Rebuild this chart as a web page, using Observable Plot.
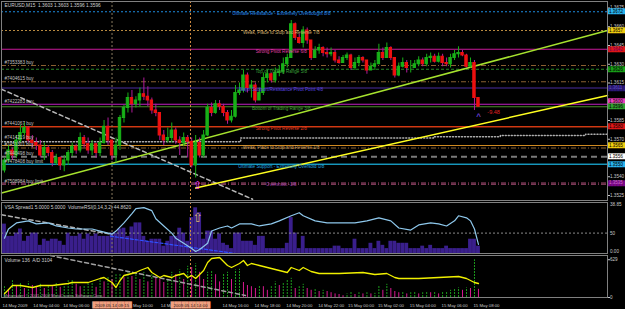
<!DOCTYPE html>
<html><head><meta charset="utf-8">
<script src="https://cdn.jsdelivr.net/npm/d3@7"></script>
<script src="https://cdn.jsdelivr.net/npm/@observablehq/plot@0.6"></script>
<style>
html,body{margin:0;padding:0;background:#000;}
#chart{position:relative;width:625px;height:309px;background:#000;overflow:hidden;}
#chart svg{position:absolute;left:0;}
</style></head><body><div id="chart"></div>
<script>
// ---------- DATA ----------
const title = "EURUSD,M15  1.3603 1.3603 1.3596 1.3596";
const firstOpen = 1.3545;
const closes = [1.3553,1.3561,1.3557,1.3569,1.3575,1.3579,1.3569,1.3567,1.3565,1.3557,
 1.3563,1.3559,1.3551,1.3555,1.3549,1.3553,1.3559,1.3564,1.3561,1.3571,
 1.3566,1.3561,1.3566,1.3559,1.3567,1.3580,1.3569,1.3557,1.3565,1.3587,
 1.3595,1.3603,1.3598,1.3601,1.3606,1.3604,1.3601,1.3593,1.3591,1.3573,
 1.3569,1.3571,1.3577,1.3569,1.3567,1.3571,1.3568,1.3549,1.3567,1.3557,
 1.3573,1.3595,1.3591,1.3598,1.3596,1.3591,1.3585,1.3588,1.3607,1.3609,
 1.3621,1.3611,1.3613,1.3601,1.3607,1.3619,1.3622,1.3617,1.3623,1.3624,
 1.3630,1.3635,1.3662,1.3651,1.3647,1.3657,1.3649,1.3635,1.3641,1.3643,
 1.3639,1.3638,1.3639,1.3633,1.3631,1.3635,1.3637,1.3627,1.3631,1.3635,
 1.3633,1.3625,1.3628,1.3630,1.3639,1.3635,1.3643,1.3635,1.3621,1.3628,
 1.3631,1.3627,1.3627,1.3630,1.3633,1.3630,1.3635,1.3636,1.3632,1.3636,
 1.3631,1.3630,1.3635,1.3638,1.3639,1.3637,1.3628,1.3631,1.3603,1.3596];
const highs = [1.3555,1.3565,1.3563,1.3573,1.3581,1.3583,1.3580,1.3573,1.3571,1.3569,
 1.3567,1.3565,1.3561,1.3558,1.3556,1.3557,1.3561,1.3567,1.3566,1.3575,
 1.3573,1.3571,1.3569,1.3567,1.3571,1.3585,1.3587,1.3569,1.3571,1.3589,
 1.3597,1.3607,1.3609,1.3604,1.3611,1.3619,1.3612,1.3603,1.3598,1.3591,
 1.3577,1.3579,1.3583,1.3579,1.3572,1.3575,1.3573,1.3571,1.3573,1.3571,
 1.3577,1.3598,1.3599,1.3601,1.3601,1.3598,1.3593,1.3593,1.3613,1.3615,
 1.3625,1.3623,1.3617,1.3615,1.3611,1.3623,1.3625,1.3623,1.3627,1.3629,
 1.3635,1.3638,1.3665,1.3663,1.3654,1.3660,1.3659,1.3649,1.3644,1.3646,
 1.3644,1.3643,1.3643,1.3641,1.3636,1.3637,1.3639,1.3638,1.3635,1.3637,
 1.3636,1.3633,1.3631,1.3633,1.3646,1.3643,1.3647,1.3644,1.3635,1.3631,
 1.3635,1.3633,1.3633,1.3633,1.3636,1.3635,1.3638,1.3639,1.3638,1.3639,
 1.3638,1.3635,1.3638,1.3641,1.3644,1.3641,1.3638,1.3635,1.3633,1.3603];
const lows = [1.3543,1.3551,1.3553,1.3555,1.3567,1.3573,1.3567,1.3563,1.3561,1.3555,
 1.3553,1.3556,1.3548,1.3549,1.3545,1.3544,1.3549,1.3556,1.3558,1.3559,
 1.3563,1.3558,1.3557,1.3555,1.3556,1.3566,1.3565,1.3553,1.3551,1.3561,
 1.3583,1.3591,1.3591,1.3595,1.3596,1.3601,1.3596,1.3590,1.3588,1.3569,
 1.3565,1.3567,1.3567,1.3566,1.3557,1.3564,1.3555,1.3547,1.3539,1.3555,
 1.3555,1.3572,1.3588,1.3590,1.3593,1.3588,1.3582,1.3583,1.3587,1.3605,
 1.3607,1.3607,1.3603,1.3599,1.3601,1.3605,1.3615,1.3615,1.3615,1.3620,
 1.3622,1.3627,1.3635,1.3649,1.3646,1.3643,1.3646,1.3633,1.3635,1.3638,
 1.3636,1.3635,1.3636,1.3631,1.3630,1.3631,1.3633,1.3625,1.3625,1.3628,
 1.3631,1.3622,1.3625,1.3625,1.3630,1.3633,1.3635,1.3633,1.3619,1.3620,
 1.3627,1.3623,1.3623,1.3627,1.3628,1.3628,1.3628,1.3631,1.3631,1.3631,
 1.3628,1.3628,1.3627,1.3633,1.3635,1.3636,1.3627,1.3627,1.3593,1.3596];

// Murrey math levels
const levelPrices = [1.3672,1.3657,1.3642,1.3626,1.3611,1.3596,1.3580,1.3565,1.3550,1.3535];
const levelNames = ["Ultimate Resistance - Extremely Overbought 8/8","Weak, Place to Stop and Reverse 7/8",
 "Strong Pivot Reverse 6/8","Top of Trading Range 5/8","Major Support/Resistance Pivot Point 4/8",
 "Bottom of Trading Range 3/8","Strong Pivot Reverse 2/8","Weak, Place to Stop and Reverse 1/8",
 "Ultimate Support - Extremely Oversold 0/8","Overshoot -1/8"];
const levelColors = ["#1e8ce0","#b88a40","#c8189a","#2a8a2a","#4a2ca0","#4a8a2a","#e03c14","#d08a20","#1aa0c8","#a04a70"];
const levelDash = ["2,2","2,2",null,"3,2",null,null,null,null,null,"5,2,1,2"];
const levelTextColors = ["#2a90f0","#d0b070","#e040a8","#3aa03a","#5a48e0","#4aa03a","#e03a20","#d0a060","#20a8e0","#a040a8"];
const levelTextIdx = 69.5;

// order lines
const orderNames = ["#7353383 buy","#7404615 buy","#7422283 buy","#7441067 buy","#7414219 buy",
 "#7451301 buy","#7440498 buy","#7478408 buy limit","#7508984 buy limit"];
const orderPrices = [1.3629,1.3616,1.3598,1.3580,1.3569,1.3563,1.3556,1.3550,1.3534];
const orderColors = ["#8a6030","#8a6030","#c020c0","#e03c14",null,"#8a6030","#7a7a7a","#1aa0c8","#a04a70"];
const orderDash = ["5,2,1,2","5,2,1,2",null,null,null,"5,2,1,2","6,4",null,"5,2,1,2"];
const orderWidth = [1,1,1,1,1,1,2,1,1];

// right axis
const priceTicks = [1.3525,1.3540,1.3555,1.3570,1.3585,1.3600,1.3615,1.3630,1.3645,1.3660,1.3675];
const boxPrices = [1.3672,1.3657,1.3642,1.3626,1.3611,1.3600,1.3596,1.3580,1.3565,1.3556,1.3550,1.3535];
const boxColors = ["#28b4f0","#f0d010","#e01818","#18a018","#2a1878","#f040c0","#30a030","#e01818","#f0d010","#ffffff","#28b4f0","#7a0a8a"];
const boxTextColors = ["#000","#000","#700060","#000","#6050c0","#000","#000","#000","#000","#000","#000","#d070d0"];

// trend / other lines (bar index, price)
const greenTrendIdx = [-0.75, 151.4], greenTrendPrice = [1.3527, 1.3657];
const yellowTrendIdx = [48, 151.4], yellowTrendPrice = [1.3531, 1.3605];
const whiteTrendIdx = [-0.75, 62.3], whiteTrendPrice = [1.3610, 1.3522];
const stepIdx = [-0.75, 59.3, 107.7, 124.5, 145.9, 151.4];
const stepPrice = [1.3568, 1.3571, 1.3572, 1.3573, 1.3574, 1.3574];

// vertical markers
const markerIdx = [27, 46.7];
const markerText = ["2009.05.14 09:15","2009.05.14 14:00"];
const markerColors = ["#8a7a60","#d08a40"];

// VSA window
const vsaTitle = "VSA Spread1 5.0000 5.0000  VolumeRSI(0,14,3,2) 44.8620";
const vsaSpread = [72,42,42,50,60,30,42,50,50,20,
 35,30,35,35,30,20,50,42,42,48,
 35,48,42,48,42,42,42,50,50,60,
 62,42,65,75,75,42,30,35,35,35,
 18,30,42,42,62,50,30,88,112,100,
 35,55,55,35,48,25,20,12,50,50,
 30,30,30,20,42,42,12,12,12,12,
 12,25,88,50,12,42,12,12,12,12,
 12,12,12,18,18,12,12,12,35,12,
 12,12,25,12,30,20,12,30,30,25,
 25,25,12,12,12,18,12,20,12,12,
 12,18,12,12,12,12,12,35,35,18];
const rsiIdx = [0,1,3,6,8,11,13,16,18,22,24,27,28,30,32,33,35,37,38,40,42,43,45,47,48,49,51,52,54,56,57,59,62,64,67,69,72,74,75,78,81,84,88,91,94,97,99,102,104,107,109,111,113,114,116,117,118,119];
const rsiVal = [37.5,60,75,80,72.5,75,67.5,62.5,60,60,55,47.5,55,75,97.5,110,112.5,105,85,67.5,50,37.5,25,12.5,5,10,25,55,62.5,67.5,62.5,72.5,72.5,67.5,72.5,80,92.5,100,92.5,80,75,75,75,80,87.5,80,62.5,57.5,70,75,72.5,67.5,80,92.5,87.5,80,60,22.5];
const vsaWhiteIdx = [-0.75, 26.6], vsaWhiteVal = [95, 47.5];
const vsaBlueIdx = [26.6, 58], vsaBlueVal = [42.5, 0];
const vsaAxisVals = [121, 50, 6];
const vsaAxisText = ["38.85", "50", "0.00"];

// Volume window
const volTitle = "Volume 136  A/D 3104";
const volumes = [180,120,280,200,250,150,260,200,180,220,
 150,200,180,250,170,200,280,300,220,180,
 200,230,250,170,280,260,350,300,380,400,
 330,420,350,380,300,420,260,380,330,300,
 250,300,420,380,460,300,520,500,560,420,
 300,420,440,380,260,400,420,300,460,470,
 250,200,180,150,200,180,120,180,260,200,
 240,300,320,150,180,220,150,120,150,100,
 120,100,80,60,50,30,60,90,50,80,
 60,80,60,70,200,120,220,150,100,80,
 90,60,80,100,60,80,100,80,90,60,
 90,100,120,140,160,120,160,150,629,136];
const volTicks = [0, 629];
const adIdx = [0,2,4,7,9,12,16,17,21,24,25,27,28,29,30,32,33,34,36,37,39,40,42,43,45,46,47,48,50,51,52,54,56,57,59,60,61,62,64,66,69,71,72,74,75,77,79,84,90,93,96,98,99,104,109,114,116,118,119];
const adVal = [2900,3064,3064,3024,3064,3064,3104,3124,3124,3204,3224,3124,3024,3164,3264,3304,3324,3364,3424,3324,3224,3264,3224,3264,3304,3224,3264,3204,3364,3524,3604,3624,3464,3424,3504,3564,3464,3504,3464,3424,3364,3324,3424,3364,3424,3344,3304,3304,3324,3284,3304,3224,3204,3204,3224,3244,3204,3124,3104];
const volTrendIdx = [11.5, 60.5], volTrendVal = [700, 33];
const copyright = "Metatrader, \u00a9 2001-2009 MetaQuotes Software Corp.";

// time axis
const timeIdx = [-0.25, 7.5, 15, 31, 39.5, 55, 63, 71, 79, 86.5, 94, 102, 110, 118];
const timeText = ["14 May 2009","14 May 04:00","14 May 06:00","14 May 10:00","14 May 12:00","14 May 16:00",
 "14 May 18:00","14 May 20:00","14 May 22:00","15 May 00:00","15 May 02:00","15 May 04:00","15 May 06:00","15 May 08:00"];

// ---------- BUILD ----------
const xDomain = [-0.75, 151.4];
const BULL = "#18b018", BEAR = "#ee1010", BEARWICK = "#b01a9a";
const candles = closes.map((c, i) => ({i, o: i ? closes[i-1] : firstOpen, c, h: highs[i], l: lows[i]}));
const levels = levelPrices.map((p, k) => ({p, name: levelNames[k], color: levelColors[k], dash: levelDash[k], tc: levelTextColors[k]}));
const orders = orderPrices.map((p, k) => ({p, name: orderNames[k], color: orderColors[k], dash: orderDash[k], w: orderWidth[k]}));
const boxes = boxPrices.map((p, k) => ({p, bg: boxColors[k], tc: boxTextColors[k]}));
const pts = (ix, vs) => ix.map((i, k) => ({i, v: vs[k]}));
const markers = markerIdx.map((i, k) => ({i, t: markerText[k], color: markerColors[k]}));
const FONT = "'Liberation Sans', Arial, sans-serif";
const style = {background: "transparent", color: "#c8c8c8", fontSize: "4.6px", fontFamily: FONT, overflow: "visible"};
const FR = {stroke: "#808080"};

const levelLineMarks = levels.map(l => Plot.ruleY([l], {y: "p", stroke: l.color, strokeDasharray: l.dash || undefined, strokeWidth: 1}));
const orderLineMarks = orders.filter(o => o.color).map(o => Plot.ruleY([o], {y: "p", stroke: o.color, strokeDasharray: o.dash || undefined, strokeWidth: o.w}));
const markerRules = markers.map(m => Plot.ruleX([m], {x: "i", stroke: m.color, strokeDasharray: "2,2"}));

const main = Plot.plot({
  width: 625, height: 201, marginTop: 1, marginBottom: 1, marginLeft: 1, marginRight: 18,
  x: {domain: xDomain, axis: null},
  y: {domain: [1.3521, 1.36802], axis: "right", ticks: priceTicks, tickFormat: d => d.toFixed(4), tickSize: 2, tickPadding: 0.5, label: null},
  color: {type: "identity"},
  style,
  marks: [
    ...levelLineMarks,
    ...orderLineMarks,
    ...markerRules,
    Plot.line(pts(stepIdx, stepPrice), {x: "i", y: "v", curve: "step-after", stroke: "#b0b0b0", strokeDasharray: "1,2"}),
    Plot.line(pts(whiteTrendIdx, whiteTrendPrice), {x: "i", y: "v", stroke: "#b8b8b8", strokeDasharray: "4,3"}),
    Plot.line(pts(greenTrendIdx, greenTrendPrice), {x: "i", y: "v", stroke: "#a6e22e", strokeWidth: 1.5}),
    Plot.line(pts(yellowTrendIdx, yellowTrendPrice), {x: "i", y: "v", stroke: "#ffff20", strokeWidth: 1.5}),
    Plot.ruleX(candles, {x: "i", y1: "l", y2: "h", stroke: d => d.c >= d.o ? BULL : BEARWICK, strokeWidth: 1}),
    Plot.rect(candles, {x1: d => d.i - 0.3, x2: d => d.i + 0.3, y1: "o", y2: "c",
      fill: d => d.c >= d.o ? BULL : BEAR, stroke: d => d.c >= d.o ? BULL : BEAR, strokeWidth: 1}),
    Plot.text(levels, {x: () => levelTextIdx, y: "p", text: "name", fill: "tc", fontSize: 4.6, dy: 2, textAnchor: "middle"}),
    Plot.text(orders, {y: "p", text: "name", frameAnchor: "left", textAnchor: "start", dx: 3, dy: -3, fill: "#c4c4c4", fontSize: 4.6}),
    Plot.text([{i: 48.5, p: 1.3533}], {x: "i", y: "p", text: () => "\u21e7", fill: "#ff40ff", fontSize: 11, fontFamily: "DejaVu Sans"}),
    Plot.text([{i: 119, p: 1.3588}], {x: "i", y: "p", text: () => "^", fill: "#6a40d0", fontSize: 8, fontWeight: "bold"}),
    Plot.text([{i: 122.8, p: 1.3592}], {x: "i", y: "p", text: () => "-9.48", fill: "#e02020", fontSize: 5.5}),
    Plot.text([title], {text: d => d, frameAnchor: "top-left", dx: 3, dy: 2, fill: "#d0d0d0", fontSize: 4.8}),
    Plot.text(boxes, {y: "p", text: () => "\u2588\u2588\u2588\u2588\u2588\u2588", frameAnchor: "right", textAnchor: "start", dx: 0.3, fill: "bg", fontFamily: "DejaVu Sans Mono", fontSize: 4.95}),
    Plot.text(boxes, {y: "p", text: d => d.p.toFixed(4), frameAnchor: "right", textAnchor: "start", dx: 1.4, fill: "tc", fontSize: 4.5}),
    Plot.frame(FR)
  ]
});

const vsa = Plot.plot({
  width: 625, height: 53, marginTop: 1, marginBottom: 1, marginLeft: 1, marginRight: 18,
  x: {domain: xDomain, axis: null},
  y: {domain: [0, 125], axis: null},
  color: {type: "identity"},
  style,
  marks: [
    Plot.rect(vsaSpread.map((v, i) => ({i, v})), {x1: d => d.i - 0.48, x2: d => d.i + 0.48, y1: () => 0, y2: "v", fill: "#3a1f8c"}),
    Plot.ruleY([50], {stroke: "#8a8a8a", strokeDasharray: "2,2"}),
    ...markerRules,
    Plot.line(pts(vsaWhiteIdx, vsaWhiteVal), {x: "i", y: "v", stroke: "#b0b0b0", strokeDasharray: "4,3"}),
    Plot.line(pts(vsaBlueIdx, vsaBlueVal), {x: "i", y: "v", stroke: "#3050ff", strokeDasharray: "3,2", strokeWidth: 1.2}),
    Plot.line(pts(rsiIdx, rsiVal), {x: "i", y: "v", stroke: "#8ec8ec", strokeWidth: 1.2}),
    Plot.text([{i: 48.5, v: 88}], {x: "i", y: "v", text: () => "\u21e7", fill: "#d8b070", fontSize: 13, fontFamily: "DejaVu Sans"}),
    Plot.text(vsaAxisVals.map((v, k) => ({v, t: vsaAxisText[k]})), {y: "v", text: "t", frameAnchor: "right", textAnchor: "start", dx: 2.5, fill: "#c8c8c8", fontSize: 4.6}),
    Plot.text([vsaTitle], {text: d => d, frameAnchor: "top-left", dx: 3, dy: 3, fill: "#d0d0d0", fontSize: 4.8}),
    Plot.frame(FR)
  ]
});

const volData = volumes.map((v, i) => ({i, v, up: i === 0 || v >= volumes[i - 1]}));
const vol = Plot.plot({
  width: 625, height: 55, marginTop: 1, marginBottom: 12, marginLeft: 1, marginRight: 18,
  x: {domain: xDomain, axis: null},
  y: {domain: [0, 700], axis: "right", ticks: volTicks, tickFormat: d => String(d), tickSize: 2, tickPadding: 0.5, label: null},
  color: {type: "identity"},
  style,
  marks: [
    Plot.ruleX(volData.filter(d => d.up), {x: "i", y1: () => 0, y2: "v", stroke: "#1c9a1c", strokeDasharray: "2,1"}),
    Plot.ruleX(volData.filter(d => !d.up), {x: "i", y1: () => 0, y2: "v", stroke: "#d81890"}),
    ...markerRules,
    Plot.line(pts(volTrendIdx, volTrendVal), {x: "i", y: "v", stroke: "#a0a0a0", strokeDasharray: "4,3"}),
    Plot.text([volTitle], {text: d => d, frameAnchor: "top-left", dx: 3, dy: 3, fill: "#d0d0d0", fontSize: 4.8}),
    Plot.text([copyright], {text: d => d, frameAnchor: "bottom-left", dx: 2, dy: -1, fill: "#a0a0a0", fontSize: 4.2}),
    Plot.text(timeIdx.map((i, k) => ({i, t: timeText[k]})), {x: "i", text: "t", frameAnchor: "bottom", lineAnchor: "middle", dy: 8, dx: -1, textAnchor: "start", fill: "#c8c8c8", fontSize: 4.3}),
    Plot.text(markers, {x: "i", text: () => "\u2588\u2588\u2588\u2588\u2588\u2588\u2588\u2588\u2588\u2588\u2588", frameAnchor: "bottom", lineAnchor: "middle", dy: 8, fill: "#f0a080", fontFamily: "DejaVu Sans Mono", fontSize: 6}),
    Plot.text(markers, {x: "i", text: "t", frameAnchor: "bottom", lineAnchor: "middle", dy: 8, fill: "#302018", fontSize: 4.4}),
    Plot.frame(FR)
  ]
});

const ad = Plot.plot({
  width: 625, height: 55, marginTop: 1, marginBottom: 12, marginLeft: 1, marginRight: 18,
  x: {domain: xDomain, axis: null},
  y: {domain: [2824, 3664], axis: null},
  style,
  marks: [Plot.line(pts(adIdx, adVal), {x: "i", y: "v", stroke: "#f0f000", strokeWidth: 1.3})]
});

const root = document.getElementById("chart");
[[main, 0], [vsa, 201], [vol, 254], [ad, 254]].forEach(([svg, top]) => {
  svg.style.top = top + "px";
  svg.style.position = "absolute";
  root.appendChild(svg);
});
</script></body></html>
